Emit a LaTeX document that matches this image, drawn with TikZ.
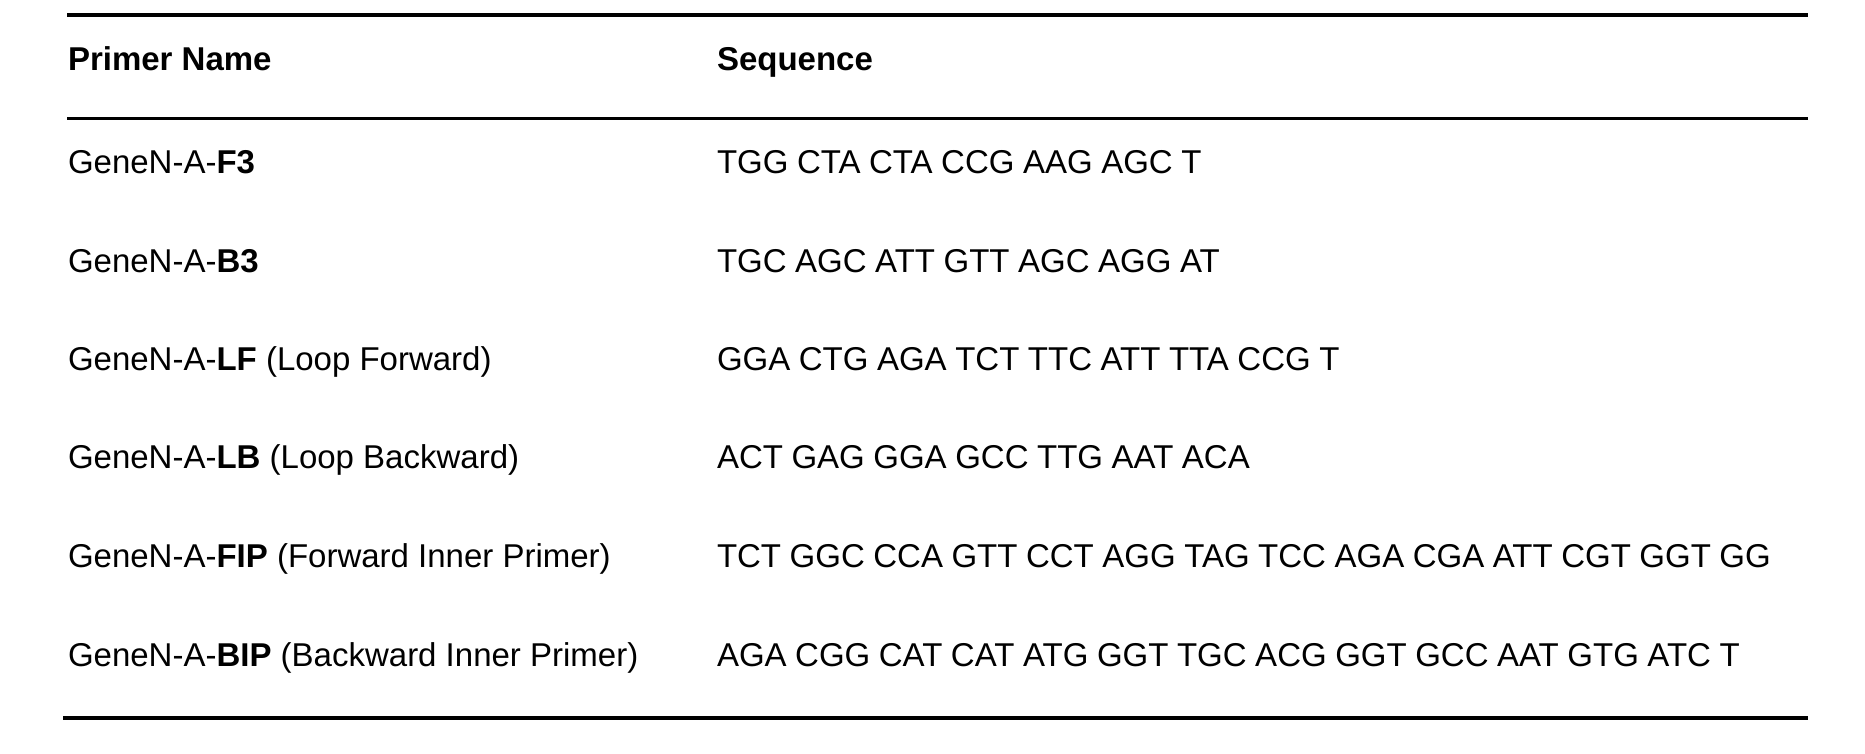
\documentclass[tikz,border=0pt]{standalone}
\usepackage{fontspec}
\setmainfont{Liberation Sans}
\newfontfamily\seqfont{Liberation Sans}[WordSpace=0.93]
\begin{document}
\begin{tikzpicture}[x=1pt,y=-1pt,
  cell/.style={anchor=base west,inner sep=0pt,outer sep=0pt,font=\fontsize{33}{39}\selectfont},
  seqcell/.style={cell,font=\fontsize{33}{39}\selectfont\seqfont},
  head/.style={cell,font=\fontsize{33}{39}\selectfont\bfseries},
  rulethick/.style={line width=4pt},
  rulethin/.style={line width=3pt}]
\useasboundingbox (0,0) rectangle (1865,753);
% rules
\coordinate (t1) at (67,15);   \coordinate (t2) at (1808,15);
\coordinate (h1) at (67,118.5);  \coordinate (h2) at (1808,118.5);
\coordinate (b1) at (63,717.5);  \coordinate (b2) at (1808,717.5);
\draw[rulethick] (t1) -- (t2);
\draw[rulethin] (h1) -- (h2);
\draw[rulethick] (b1) -- (b2);
% header
\node[head] (hn) at (68,70) {Primer Name};
\node[head] (hs) at (717,70) {Sequence};
% rows
\node[cell] (n1) at (68,173) {GeneN-A-\textbf{F3}};
\node[seqcell] (s1) at (717,173) {TGG CTA CTA CCG AAG AGC T};
\node[cell] (n2) at (68,272) {GeneN-A-\textbf{B3}};
\node[seqcell] (s2) at (717,272) {TGC AGC ATT GTT AGC AGG AT};
\node[cell] (n3) at (68,370) {GeneN-A-\textbf{LF} (Loop Forward)};
\node[seqcell] (s3) at (717,370) {GGA CTG AGA TCT TTC ATT TTA CCG T};
\node[cell] (n4) at (68,468.5) {GeneN-A-\textbf{LB} (Loop Backward)};
\node[seqcell] (s4) at (717,468.5) {ACT GAG GGA GCC TTG AAT ACA};
\node[cell] (n5) at (68,567) {GeneN-A-\textbf{FIP} (Forward Inner Primer)};
\node[seqcell] (s5) at (717,567) {TCT GGC CCA GTT CCT AGG TAG TCC AGA CGA ATT CGT GGT GG};
\node[cell] (n6) at (68,666) {GeneN-A-\textbf{BIP} (Backward Inner Primer)};
\node[seqcell] (s6) at (717,666) {AGA CGG CAT CAT ATG GGT TGC ACG GGT GCC AAT GTG ATC T};
\end{tikzpicture}
\end{document}
